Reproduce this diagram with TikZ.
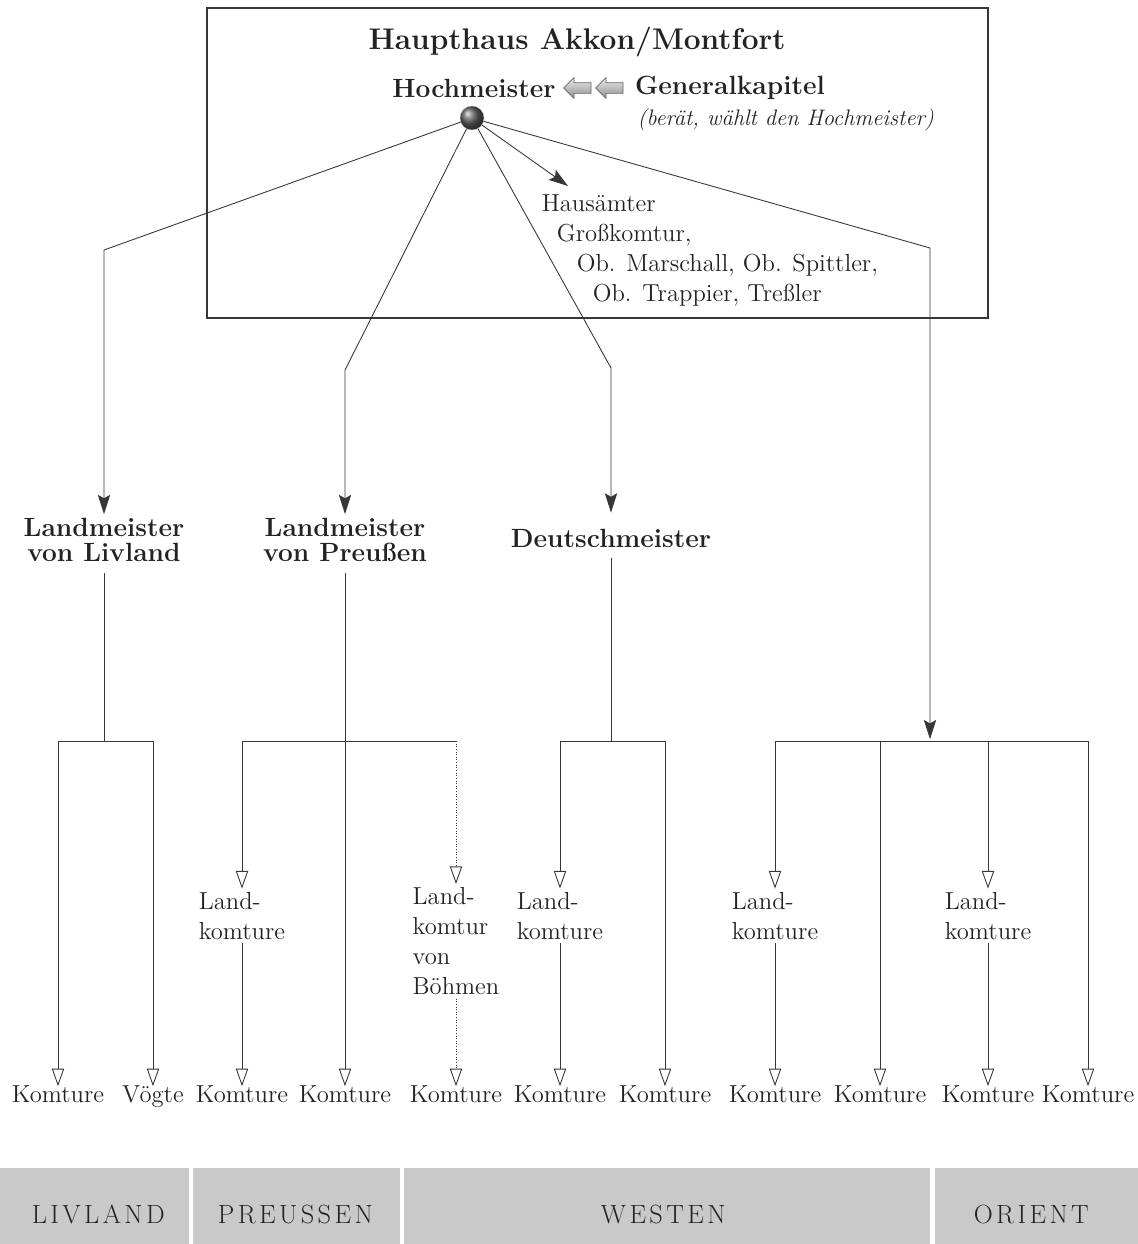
\documentclass[tikz,border=0pt]{standalone}
\usepackage{fontspec}
\usepackage{tikz}
\usetikzlibrary{arrows.meta, shapes.arrows}
\tikzset{>=latex}
\definecolor{mygray1}{RGB}{55, 55, 55}
\definecolor{mygray2}{RGB}{201, 201, 201}
\definecolor{mygray3}{RGB}{100, 100, 100}
\definecolor{mytext}{RGB}{35, 35, 35}
% letters set apart, for the regions
\def\spaceout#1{\spaceoutA#1\relax}
\def\spaceoutA#1{\ifx\relax#1\else#1\kern0.13em\expandafter\spaceoutA\fi}
\tikzset{
  ink/.style={draw=mygray1, line width=0.5pt},
  fillarr/.style={ink, -{Stealth[length=11pt, width=7pt, inset=2pt, fill=mygray1]}},
  openarr/.style={ink, -{Triangle[open, length=10pt, width=7pt, fill=white]}},
  head/.style={font=\bfseries\fontsize{15}{14.5}\selectfont, text=mytext, align=center, inner sep=2pt},
  lbl/.style={font=\fontsize{14}{17}\selectfont, text=mytext, align=left, inner sep=2pt},
  kom/.style={font=\fontsize{14}{17}\selectfont, text=mytext, inner sep=2pt, text height=1.6ex, text depth=0.5ex},
  note/.style={font=\itshape\fontsize{12.8}{14}\selectfont, text=mytext, inner sep=1pt},
  fatarr/.style={single arrow, shape border rotate=180, minimum height=0.55cm, text height=0.2cm, text depth=0pt,
    text width=0pt, single arrow head extend=0.1cm, inner sep=0pt, draw=mygray3, thin, top color=gray!15, bottom color=gray!90},
  bandtext/.style={font=\fontsize{15}{16}\selectfont, text=mytext}
}

\begin{document}
\begin{tikzpicture}[x=0.02cm, y=-0.02cm]
\useasboundingbox (0,0) rectangle (1138,1244);
% Haupthaus
\draw[line width=1.6pt, draw=mygray1] (207,8) rectangle (988,318);
\node[head, font=\bfseries\fontsize{17}{18}\selectfont] (haupt) at (577,42) {Haupthaus Akkon/Montfort};
\node[head] (hm) at (474,88) {Hochmeister};
\node[fatarr] (fa1) at (580,88) {};
\node[fatarr] (fa2) at (612,88) {};
\node[head] (gk) at (730,88) {Generalkapitel};
\node[note, anchor=east] (gknote) at (936,120) {(berät, wählt den Hochmeister)};
\node[circle, minimum size=0.48cm, inner sep=0pt, ball color=gray!75!black, draw=gray!60, very thin] (hmball) at (472,118) {};
\node[lbl, anchor=north west] (ha) at (538,191) {Hausämter\\\hspace*{0.3cm}Großkomtur,\\\hspace*{0.7cm}Ob. Marschall, Ob. Spittler,\\\hspace*{1.02cm}Ob. Trappier, Treßler};
\coordinate (haTip) at (568,186);
\draw[fillarr] (hmball) -- (haTip);

% Meister
\node[head] (lmLiv) at (104,540) {Landmeister\\von Livland};
\node[head] (lmPr) at (345,540) {Landmeister\\von Preußen};
\node[head] (dm) at (611,538) {Deutschmeister};
\coordinate (bLiv) at (104,250);
\coordinate (bPr) at (345,370);
\coordinate (bDm) at (611,368);
\coordinate (bOr) at (930,248);
\coordinate (orSplit) at (930,741);
\draw[fillarr] (hmball) -- (bLiv) -- (lmLiv);
\draw[fillarr] (hmball) -- (bPr) -- (lmPr);
\draw[fillarr, shorten >=7pt] (hmball) -- (bDm) -- (dm);
\draw[fillarr, shorten >=1pt] (hmball) -- (bOr) -- (orSplit);

% Landkomture
\node[lbl] (lk1) at (242,916) {Land-\\komture};
\node[lbl, anchor=north] (lkB) at (456,884) {Land-\\komtur\\von\\Böhmen};
\node[lbl] (lk3) at (560,916) {Land-\\komture};
\node[lbl] (lk4) at (775,916) {Land-\\komture};
\node[lbl] (lk5) at (988,916) {Land-\\komture};

% Komture
\node[kom] (k1) at (58,1098) {Komture};
\node[kom] (k2) at (153,1098) {Vögte};
\node[kom] (k3) at (242,1098) {Komture};
\node[kom] (k4) at (345,1098) {Komture};
\node[kom] (k5) at (456,1098) {Komture};
\node[kom] (k6) at (560,1098) {Komture};
\node[kom] (k7) at (665,1098) {Komture};
\node[kom] (k8) at (775,1098) {Komture};
\node[kom] (k9) at (880,1098) {Komture};
\node[kom] (k10) at (988,1098) {Komture};
\node[kom] (k11) at (1088,1098) {Komture};

% Livland
\coordinate (livSplit) at (104,741);
\draw[ink, shorten <=4pt] (lmLiv) -- (livSplit);
\draw[openarr] (livSplit) -| (k1);
\draw[openarr] (livSplit) -| (k2);
% Preussen
\coordinate (prSplit) at (345,741);
\draw[openarr, shorten <=4pt] (lmPr) -- (k4);
\draw[openarr] (prSplit) -| (lk1);
\draw[ink] (prSplit) -- (prSplit -| lkB);
\draw[openarr, densely dotted] (prSplit -| lkB) -- (lkB);
\draw[openarr] (lk1) -- (k3);
\draw[openarr, densely dotted] (lkB) -- (k5);
% Westen
\coordinate (dmSplit) at (611,741);
\draw[ink, shorten <=4pt] (dm) -- (dmSplit);
\draw[openarr] (dmSplit) -| (lk3);
\draw[openarr] (dmSplit) -| (k7);
\draw[openarr] (lk3) -- (k6);
% Orient
\draw[openarr] (orSplit) -| (lk4);
\draw[openarr] (orSplit) -| (k9);
\draw[openarr] (orSplit) -| (lk5);
\draw[openarr] (orSplit) -| (k11);
\draw[openarr] (lk4) -- (k8);
\draw[openarr] (lk5) -- (k10);

% Regionen
\fill[mygray2] (0,1168) rectangle (189,1244);
\fill[mygray2] (193,1168) rectangle (400,1244);
\fill[mygray2] (404,1168) rectangle (930,1244);
\fill[mygray2] (935,1168) rectangle (1138,1244);
\node[bandtext] (rLiv) at (100,1214) {\spaceout{LIVLAND}};
\node[bandtext] (rPr) at (297,1214) {\spaceout{PREUSSEN}};
\node[bandtext] (rWe) at (665,1214) {\spaceout{WESTEN}};
\node[bandtext] (rOr) at (1033,1214) {\spaceout{ORIENT}};
\end{tikzpicture}
\end{document}
